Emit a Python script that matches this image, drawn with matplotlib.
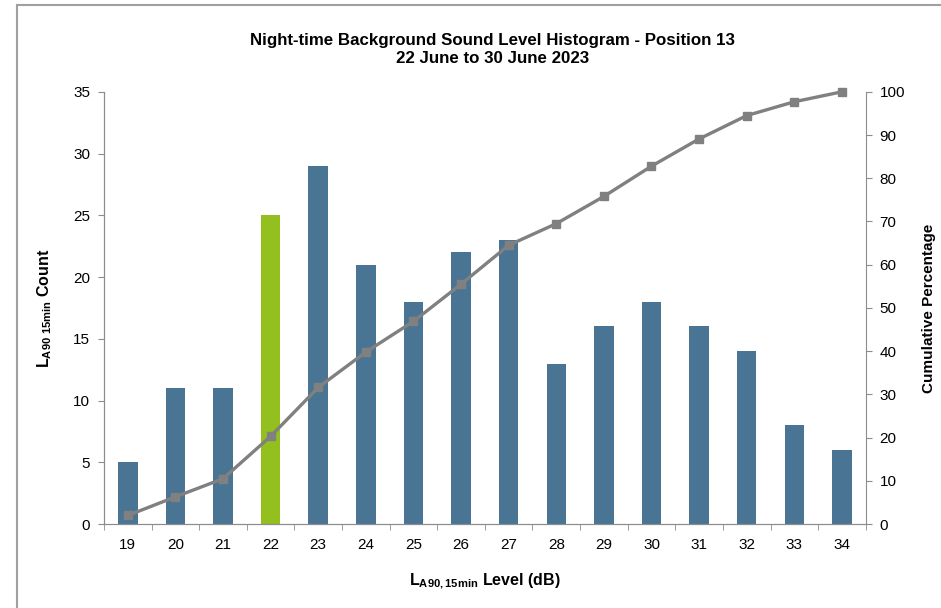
import matplotlib.pyplot as plt
from matplotlib.lines import Line2D

plt.rcParams['font.family'] = ['Liberation Sans', 'DejaVu Sans']
plt.rcParams['mathtext.fontset'] = 'custom'
plt.rcParams['mathtext.rm'] = 'Liberation Sans'
plt.rcParams['mathtext.bf'] = 'Liberation Sans:bold'

levels = [19, 20, 21, 22, 23, 24, 25, 26, 27, 28, 29, 30, 31, 32, 33, 34]
counts = [5, 11, 11, 25, 29, 21, 18, 22, 23, 13, 16, 18, 16, 14, 8, 6]
cum_pct = [2.0, 6.3, 10.5, 20.3, 31.6, 39.8, 46.9, 55.5, 64.5, 69.5, 75.8, 82.8, 89.1, 94.5, 97.7, 100.0]
highlight = 22

bar_blue = '#4A7494'
bar_green = '#93C01F'
grey = '#808080'
axis_grey = '#8C8C8C'

fig = plt.figure(figsize=(9.41, 6.08), dpi=100)
ax = fig.add_axes([0.1105, 0.138, 0.8095, 0.711])
ax2 = ax.twinx()

x = list(range(len(levels)))
colors = [bar_green if l == highlight else bar_blue for l in levels]
ax.bar(x, counts, width=0.41, color=colors, zorder=2)
ax.set_xlim(-0.5, len(levels) - 0.5)
ax.set_ylim(0, 35)
ax.set_yticks(range(0, 36, 5))
ax.set_xticks(x)
ax.set_xticklabels([str(l) for l in levels])
ax.set_xticks([i + 0.5 for i in range(-1, len(levels))], minor=True)
ax.tick_params(axis='x', which='major', length=0, pad=10, labelsize=11)
ax.tick_params(axis='x', which='minor', length=4, color=axis_grey)
ax.tick_params(axis='y', length=4, color=axis_grey, labelsize=11, pad=6)

ax2.plot(x, cum_pct, color=grey, lw=2.4, marker='s', ms=6, zorder=3, clip_on=False)
ax2.set_ylim(0, 100)
ax2.set_yticks(range(0, 101, 10))
ax2.tick_params(axis='y', length=4, color=axis_grey, labelsize=11, pad=6)

for a in (ax, ax2):
    a.spines['top'].set_visible(False)
    for s in ('left', 'right', 'bottom'):
        a.spines[s].set_color(axis_grey)
ax.spines['right'].set_visible(False)

ax.set_ylabel(r'$\mathbf{L}_{\mathbf{A90\ 15min}}$ Count', fontsize=11.5, fontweight='bold', labelpad=14)
ax2.set_ylabel('Cumulative Percentage', fontsize=11, fontweight='bold', labelpad=12)
ax.set_xlabel(r'$\mathbf{L}_{\mathbf{A90,15min}}$ Level (dB)', fontsize=11.5, fontweight='bold', labelpad=14)

fig.text(0.523, 0.919, 'Night-time Background Sound Level Histogram - Position 13\n22 June to 30 June 2023',
         ha='center', va='center', fontsize=12.2, fontweight='bold', linespacing=1.25)

# outer chart border (top and left edges visible)
fig.add_artist(Line2D([17 / 941, 1], [1 - 5 / 608, 1 - 5 / 608], color='#A0A0A0', lw=1.5))
fig.add_artist(Line2D([17 / 941, 17 / 941], [0, 1 - 5 / 608], color='#A0A0A0', lw=1.5))

fig.savefig('out.png', dpi=100)
